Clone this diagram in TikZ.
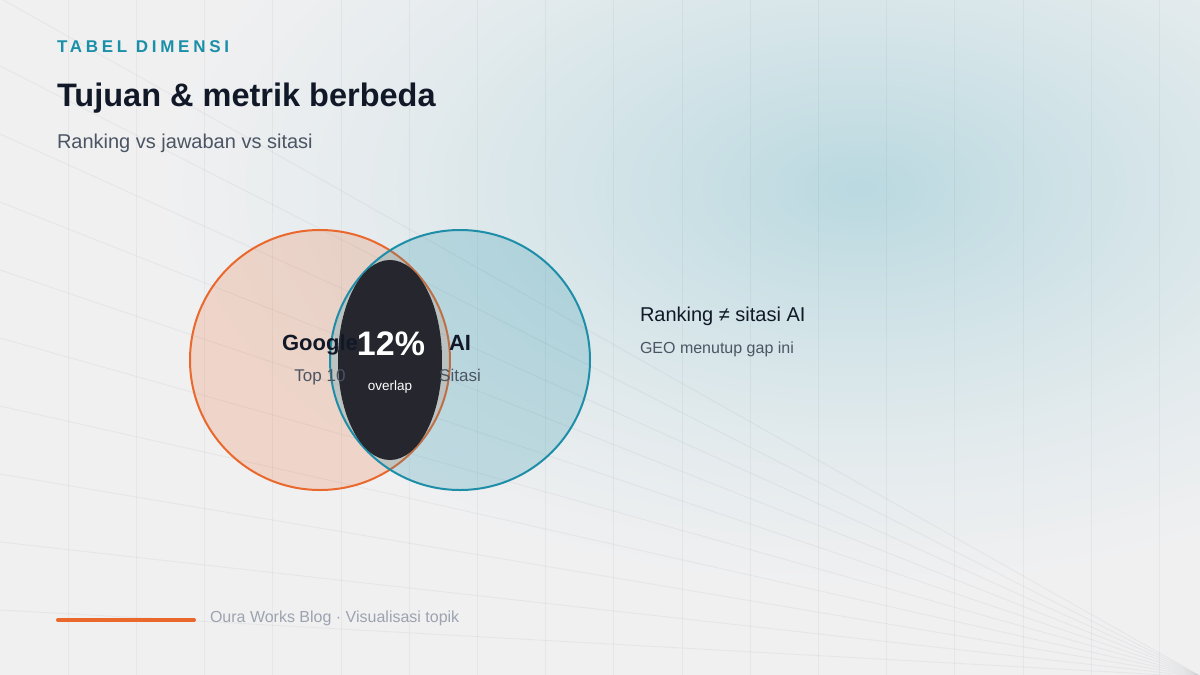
\documentclass[tikz,border=0pt]{standalone}
\usepackage{fontspec}
\setmainfont{Liberation Sans}
\newfontfamily\kickerfont[LetterSpace=22]{Liberation Sans}
\usetikzlibrary{shapes.geometric, positioning}
\definecolor{pagebg}{RGB}{240,240,241}
\definecolor{gridgray}{RGB}{60,70,80}
\definecolor{glowteal}{RGB}{186,217,224}
\colorlet{glowmid}{glowteal!55!pagebg}
\colorlet{glowlow}{glowteal!22!pagebg}
\definecolor{googleorange}{RGB}{234,104,44}
\definecolor{aiteal}{RGB}{30,142,168}
\definecolor{overlapdark}{RGB}{37,38,46}
\definecolor{inkdark}{RGB}{17,24,39}
\definecolor{inkgray}{RGB}{75,85,99}
\definecolor{inklight}{RGB}{156,163,175}
\definecolor{kickerteal}{RGB}{26,143,168}
\pgfdeclareradialshading{glow}{\pgfpoint{0bp}{0bp}}{color(0bp)=(glowteal); color(9bp)=(glowmid); color(17bp)=(glowlow); color(25bp)=(pagebg); color(50bp)=(pagebg)}

\begin{document}
\begin{tikzpicture}[
    x=1pt, y=-1pt,
    gridline/.style={draw=gridgray, draw opacity=0.055, line width=1pt},
    setcircle/.style={circle, draw, line width=2pt, minimum size=260pt, inner sep=0pt},
    txt/.style={inner sep=0pt, outer sep=0pt},
    kicker/.style={txt, anchor=base west, text=kickerteal, font=\kickerfont\bfseries\fontsize{17}{20}\selectfont},
    heading/.style={txt, anchor=base west, text=inkdark, font=\bfseries\fontsize{32.5}{39}\selectfont},
    subhead/.style={txt, anchor=base west, text=inkgray, font=\fontsize{20}{24}\selectfont},
    setname/.style={txt, anchor=base, text=inkdark, font=\bfseries\fontsize{22}{26}\selectfont},
    setsub/.style={txt, anchor=base, text=inkgray, font=\fontsize{17}{20}\selectfont},
    bignum/.style={txt, anchor=base, text=white, font=\bfseries\fontsize{34}{40}\selectfont},
    smallnum/.style={txt, anchor=base, text=white, font=\fontsize{13.5}{16}\selectfont},
    note/.style={txt, anchor=base west, text=inkdark, font=\fontsize{20}{24}\selectfont},
    notesub/.style={txt, anchor=base west, text=inkgray, font=\fontsize{16}{19}\selectfont},
    footer/.style={txt, anchor=base west, text=inklight, font=\fontsize{16}{19}\selectfont}
]
    % page and background glow
    \useasboundingbox (0,0) rectangle (1200,675);
    \clip (0,0) rectangle (1200,675);
    \fill[pagebg] (0,0) rectangle (1200,675);
    \shade[shading=glow] (860,188) ellipse [x radius=700pt, y radius=400pt];

    % faint grid: verticals and lines running to the corner
    \coordinate (vanish) at (1202,677);
    \foreach \k in {1,...,17}
        \draw[gridline] ({68.2*\k},0) -- ({68.2*\k},675);
    \foreach \k in {1,...,10}
        \draw[gridline] (0,{678-68*\k}) -- (vanish);

    % venn
    \node[setcircle, draw=googleorange, fill=googleorange, fill opacity=0.2] (google) at (320,360) {};
    \node[setcircle, draw=aiteal, fill=aiteal, fill opacity=0.22] (ai) at (460,360) {};
    \node[ellipse, fill=overlapdark, minimum width=104pt, minimum height=200pt, inner sep=0pt] (overlap) at (390,360) {};
    \node[setname] (googlename) at (320,350) {Google};
    \node[setsub] (googlesub) at (320,381) {Top 10};
    \node[setname] (ainame) at (460,350) {AI};
    \node[setsub] (aisub) at (460,381) {Sitasi};
    \node[bignum] (pct) at (391,355) {12\%};
    \node[smallnum] (pctsub) at (390,390) {overlap};

    % side note
    \node[note] (gapnote) at (640,321) {Ranking ≠ sitasi AI};
    \node[notesub] (gapsub) at (640,353) {GEO menutup gap ini};

    % header
    \node[kicker] (kick) at (57,52) {TABEL DIMENSI};
    \node[heading] (title) at (57,106) {Tujuan \& metrik berbeda};
    \node[subhead] (subtitle) at (57,148) {Ranking vs jawaban vs sitasi};

    % footer
    \draw[googleorange, line width=4pt, line cap=round] (58,620) -- (194,620);
    \node[footer] (foot) at (210,622) {Oura Works Blog · Visualisasi topik};
\end{tikzpicture}
\end{document}
